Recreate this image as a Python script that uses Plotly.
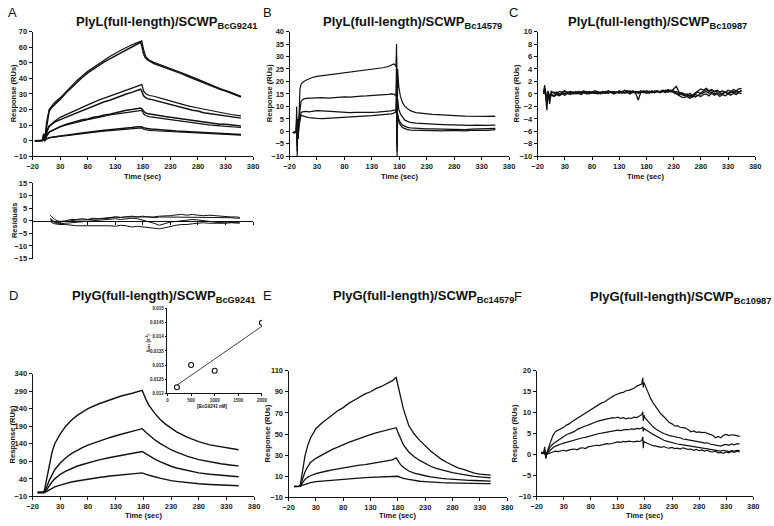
import numpy as np
import plotly.graph_objects as go

W, H = 774, 526
FONT = "Liberation Sans"
INK = "#111111"

X_TICKS = [-20, 30, 80, 130, 180, 230, 280, 330, 380]

# ---- panel A : PlyL / SCWP BcG9241 (data + fits) ----
TA = [-16, -10, -5, -2, 0, 2, 4, 6, 8, 10,
      15, 20, 30, 40, 50, 60, 70, 80, 90, 100,
      110, 120, 130, 140, 150, 160, 170, 176, 178, 181,
      184, 188, 195, 200, 210, 220, 230, 240, 250, 260,
      270, 280, 290, 300, 310, 320, 330, 340, 350, 358]
A1 = [0, 0, 0.2, 0.5, 4.5, 1, 6, 12, 16, 19,
      21.5, 23, 26.5, 30.5, 34, 37.5, 40.5, 43.5, 46, 48.5,
      50.5, 52.5, 54.5, 56.5, 58.5, 60, 62, 63, 61, 56,
      53.5, 52, 50.5, 49.5, 48.2, 47, 45.7, 44.5, 43, 41.5,
      40, 38.5, 37, 35.5, 34.3, 33, 31.8, 30.5, 29, 28]
A2 = [0, 0, 0, 0.3, 3, 0.5, 3, 6, 8, 9.5,
      11, 12, 13.5, 15, 16.5, 18, 19.5, 21, 22.5, 24,
      25, 26, 27.5, 28.5, 30, 31, 32.5, 33, 32, 29,
      28, 27, 26.5, 26, 25, 24, 23, 22, 21, 20.5,
      19.5, 19, 18, 17.5, 17, 16.5, 16, 15.5, 15, 14.5]
A3 = [0, 0, 0, 0.2, 2, 0.3, 2, 3.5, 4.5, 5.5,
      6.5, 7.5, 9, 10.5, 11.5, 12.5, 13.5, 14, 15, 15.5,
      16.5, 17, 18, 18.5, 19.5, 20, 20.5, 21, 20.5, 19,
      18, 17.5, 17, 16.5, 16, 15.5, 15, 14.5, 14, 13.5,
      13, 12.5, 12, 11.5, 11, 10.5, 10.5, 10, 9.5, 9.5]
A4 = [0, 0, 0, 0, 1, 0, 1, 1.5, 2, 2,
      2.3, 2.5, 3, 3.5, 4, 4.5, 5, 5.5, 6, 6.3,
      6.7, 7, 7.3, 7.6, 8, 8.5, 9, 9.3, 9, 8.3,
      8, 7.8, 7.5, 7.3, 7, 6.8, 6.5, 6.2, 6, 5.8,
      5.5, 5.3, 5.1, 5, 4.8, 4.6, 4.5, 4.3, 4.2, 4]

TAF = [2, 5, 10, 20, 30, 45, 60, 80, 100, 120,
       140, 160, 178, 182, 186, 192, 200, 220, 240, 260,
       280, 300, 320, 340, 358]
F_A1 = [0, 11, 20, 24.5, 27.5, 33, 38.5, 44.5, 49.5, 54,
        58, 61.5, 64, 57.5, 53.5, 51.5, 50.3, 47.8, 45.3, 42.3,
        39.3, 36.3, 33.5, 31, 28.5]
F_A2 = [0, 5, 9, 12.5, 15, 17.5, 20, 23, 26, 28.5,
        31, 33.5, 36, 31.5, 30, 29, 28.5, 26.5, 24.5, 22.5,
        21, 19.5, 18, 16.8, 16]
F_A3 = [0, 3.5, 5.5, 7.5, 9, 10.5, 12, 13.5, 15, 16.5,
        17.5, 18.5, 19.5, 17, 16, 15.5, 15, 14, 13, 12,
        11, 10.2, 9.5, 9, 8.5]
F_A4 = [0, 1, 1.8, 2.5, 3, 3.5, 4.2, 5, 5.8, 6.5,
        7.2, 7.8, 8.3, 7.2, 6.8, 6.6, 6.4, 6, 5.6, 5.2,
        4.8, 4.5, 4.2, 3.9, 3.6]

# residuals of the fit
TR = [12, 15, 20, 25, 30, 40, 50, 60, 70, 80,
      90, 100, 110, 120, 130, 140, 150, 160, 170, 180,
      190, 200, 210, 220, 230, 240, 250, 260, 270, 280,
      290, 300, 310, 320, 330, 340, 350, 356]
R1 = [2.2, 1.5, 0.5, 0, -0.3, 0, 0.5, 0.5, 0.8, 0.5,
      1, 0.8, 1, 1.2, 1.5, 1.3, 1.5, 1.8, 1.5, 1.5,
      1.6, 1.5, 1.8, 1.8, 2, 2.3, 2.5, 2.2, 2.5, 2.2,
      2, 2.2, 2, 1.8, 1.8, 1.5, 1.5, 1.3]
R2 = [1, 0.3, -0.5, -0.8, -0.5, -0.3, 0, 0.3, 0.3, 0.5,
      0.5, 0.8, 1, 1, 1.5, 1.3, 1.5, 1.5, 1.5, 1.8,
      1.5, 1.2, 1.5, 1.5, 1.2, 1.5, 1.5, 1.5, 1.2, 1.5,
      1.2, 1.5, 1.2, 1.5, 1.3, 1.2, 1, 1]
R3 = [0.5, 0, -0.8, -1, -1.2, -1, -0.8, -0.5, -0.3, 0,
      0, 0.3, 0.5, 0.5, 0.8, 0.5, 0.8, 1, 0.8, 0.3,
      -0.3, -1, -1.8, -1.2, -0.5, -0.3, 0, 0.3, 0.5, 0.3,
      0, -0.3, -0.5, -0.8, -0.5, -0.8, -1, -1]
R4 = [0, -0.8, -1.2, -1.5, -1.5, -1.5, -1.8, -2, -2, -2,
      -1.8, -1.8, -2, -2, -2.2, -1.8, -2, -2.5, -2.2, -2.5,
      -2.8, -3, -3.2, -2.8, -2.2, -1.8, -1.5, -1.5, -1.2, -1,
      -0.8, -1, -1, -1.2, -1, -0.8, -0.8, -0.5]

# ---- panel B : PlyL / SCWP Bc14579 ----
TB = [-14, -10, -8, -7, -6, -5, -4, -3, -1, 1,
      3, 6, 10, 15, 20, 30, 40, 50, 60, 70,
      80, 90, 100, 110, 120, 130, 140, 150, 160, 165,
      170, 173, 174, 175, 176, 177, 179, 182, 186, 190,
      195, 200, 210, 220, 230, 240, 250, 260, 270, 280,
      290, 300, 310, 320, 330, 340, 350, 355]
B1 = [-0.5, -0.6, -0.3, 10, -10, 5, -3, 8, 17, 19,
      19.5, 20, 20.5, 21, 21.5, 22, 22.3, 22.5, 22.8, 23,
      23.2, 23.5, 23.8, 24.3, 24.5, 25, 25.2, 25.5, 26, 26.5,
      27, 26.5, 26, 35, -10, 25, 18, 14, 11.5, 10,
      9, 8.3, 7.5, 7.2, 7, 6.8, 6.7, 6.5, 6.3, 6.2,
      6.2, 6.1, 6, 6, 5.9, 6, 6.1, 6]
B2 = [-0.5, -0.5, -0.2, 6, -8, 3, -1, 5, 10, 12,
      12.5, 13, 13.2, 13.3, 13.2, 13.4, 13.5, 13.3, 13.5, 13.6,
      13.8, 13.7, 14, 14.1, 14.2, 14.3, 14.5, 14.6, 14.8, 15,
      14.9, 14.5, 14, 30, -5, 13, 9, 7, 5.5, 4.5,
      4, 3.6, 3.3, 3.1, 3, 2.9, 2.8, 2.7, 2.6, 2.5,
      2.5, 2.4, 2.4, 2.5, 2.3, 2.4, 2.5, 2.5]
B3 = [-0.5, -0.4, -0.3, 4, -6, 2, -1, 3, 6, 7.5,
      7.8, 8, 8, 7.8, 8, 8.3, 8.2, 8, 7.8, 7.6,
      7.7, 7.5, 7.6, 7.5, 7.4, 7.6, 7.7, 7.8, 8, 8.2,
      8.5, 8.6, 8.3, 20, -8, 7, 5, 3.5, 2.5, 2,
      1.6, 1.4, 1.2, 1.1, 1, 1, 0.9, 0.8, 0.7, 0.9,
      0.8, 0.7, 0.9, 1, 0.8, 1, 1.1, 1.2]
B4 = [-0.4, -0.3, -0.2, 3, -5, 1, -1, 2, 5, 6.5,
      6.3, 6, 5.8, 5.5, 5.3, 5.2, 5.1, 5.2, 5.3, 5.5,
      5.6, 5.8, 6, 6, 6.2, 6.3, 6.5, 6.6, 6.8, 7,
      7.3, 7.8, 7.5, 15, -6, 6, 4, 2.5, 1.5, 1,
      0.7, 0.5, 0.4, 0.3, 0.3, 0.2, 0.3, 0.2, 0.4, 0.3,
      0.1, 0.2, 0.4, 0.3, 0.5, 0.4, 0.6, 0.7]

# ---- panel C : PlyL / SCWP Bc10987 (no binding) ----
TC = [-9, -7, -5, -3, -1, 2, 5, 10, 15, 20,
      25, 30, 35, 40, 45, 50, 55, 60, 65, 70,
      75, 80, 85, 90, 95, 100, 105, 110, 115, 120,
      125, 130, 135, 140, 145, 150, 155, 160, 165, 170,
      175, 180, 185, 190, 195, 200, 205, 210, 215, 220,
      225, 230, 235, 240, 245, 250, 255, 260, 265, 270,
      275, 280, 285, 290, 295, 300, 305, 310, 315, 320,
      325, 330, 335, 340, 345, 350, 355]
C1 = [0.2, 1.4, -0.6, -2.6, 0.4, -1.6, 0.2, 0.3, 0.1, 0.4,
      0.3, 0.5, 0.2, 0.4, 0.3, 0.1, 0.4, 0.3, 0.5, 0.2,
      0.4, 0.3, 0.5, 0.3, 0.2, 0.4, 0.3, 0.5, 0.3, 0.4,
      0.2, 0.5, 0.3, 0.6, 0.4, 0.3, 0.5, 0.2, -1.0, 0.4,
      0.3, 0.5, 0.4, 0.2, 0.5, 0.3, 0.4, 0.6, 0.5, 0.7,
      0.4, 0.8, 1.2, 0.3, 0.1, -0.2, -0.4, -0.2, -0.5, -0.1,
      -0.3, 0.2, 0.5, 0.7, 0.4, 0.6, 0.3, 0.5, 0.2, 0.0,
      0.3, 0.1, 0.4, 0.2, 0.5, 0.3, 0.6]
C2 = [0.0, 0.8, 0.2, -1.2, 0.5, -0.4, 0.0, -0.3, 0.1, -0.2,
      0.2, 0.0, 0.3, 0.1, 0.2, 0.4, 0.1, 0.3, 0.2, 0.0,
      0.3, 0.1, 0.2, 0.4, 0.1, 0.3, 0.2, 0.1, 0.4, 0.2,
      0.3, 0.1, 0.4, 0.2, 0.5, 0.2, 0.3, 0.1, 0.4, 0.2,
      0.5, 0.3, 0.1, 0.4, 0.2, 0.5, 0.3, 0.4, 0.2, 0.6,
      0.3, 0.5, 0.1, -0.1, 0.2, 0.0, -0.2, 0.1, -0.3, 0.2,
      0.5, 0.8, 0.6, 0.9, 0.5, 0.7, 0.4, 0.6, 0.3, 0.5,
      0.2, 0.6, 0.4, 0.7, 0.5, 0.8, 0.9]
C3 = [0.1, 0.5, -0.3, -0.8, 0.2, -0.5, -0.2, -0.4, -0.1, -0.3,
      0.0, -0.2, 0.1, -0.1, 0.2, 0.0, 0.1, -0.1, 0.2, 0.1,
      0.0, 0.2, 0.1, 0.3, 0.0, 0.2, 0.1, 0.3, 0.2, 0.1,
      0.3, 0.2, 0.4, 0.1, 0.3, 0.5, 0.2, 0.4, 0.1, 0.3,
      0.2, 0.4, 0.3, 0.5, 0.2, 0.4, 0.3, 0.5, 0.4, 0.3,
      0.6, 0.2, 0.0, -0.3, -0.5, -0.6, -0.4, -0.7, -0.3, -0.5,
      -0.2, -0.4, -0.1, 0.0, -0.3, 0.1, -0.2, 0.0, -0.4, -0.1,
      -0.3, 0.0, -0.2, 0.1, -0.1, 0.2, 0.0]
C4 = [0.3, 1.0, 0.0, -1.5, 0.3, -0.8, 0.4, 0.1, 0.3, 0.0,
      0.2, 0.4, 0.1, 0.3, 0.0, 0.2, 0.3, 0.1, 0.2, 0.4,
      0.1, 0.3, 0.2, 0.0, 0.3, 0.1, 0.4, 0.2, 0.3, 0.0,
      0.2, 0.4, 0.1, 0.3, 0.2, 0.0, 0.3, 0.4, 0.2, 0.5,
      0.3, 0.1, 0.4, 0.2, 0.3, 0.5, 0.2, 0.4, 0.6, 0.3,
      0.5, 0.3, 0.4, 0.1, -0.1, -0.3, 0.0, -0.4, -0.2, 0.1,
      0.3, 0.0, 0.2, 0.4, 0.1, 0.3, 0.0, 0.2, -0.1, 0.1,
      0.3, 0.0, 0.2, 0.4, 0.1, 0.3, 0.5]

# ---- panel D : PlyG / SCWP BcG9241 ----
TD = [-11, -5, 0, 2, 5, 10, 15, 20, 30, 40,
      50, 60, 70, 80, 100, 120, 140, 160, 178, 185,
      190, 200, 210, 220, 230, 240, 260, 280, 300, 320,
      340, 352]
D1 = [1, 1, 1, 12, 35, 80, 115, 140, 168, 190,
      207, 220, 231, 240, 254, 266, 276, 284, 292, 265,
      250, 228, 210, 196, 184, 174, 158, 146, 137, 131,
      126, 123]
D2 = [1, 1, 1, 6, 15, 35, 52, 66, 85, 100,
      112, 121, 129, 136, 148, 158, 167, 175, 183, 172,
      165, 152, 141, 131, 123, 116, 104, 95, 88, 83,
      79, 77]
D3 = [1, 1, 1, 3, 8, 20, 31, 40, 53, 62,
      70, 76, 81, 86, 94, 101, 107, 113, 118, 111,
      106, 97, 89, 82, 76, 71, 63, 57, 53, 50,
      47, 46]
D4 = [1, 1, 1, 1, 4, 9, 13, 17, 22, 27,
      31, 34, 37, 39, 44, 48, 51, 54, 57, 53,
      50, 46, 42, 38, 35, 33, 29, 26, 24, 22.5,
      21, 20.5]

# inset: kobs versus concentration
CONC = [200, 500, 1000, 2000]
KOBS = [0.01221, 0.01300, 0.01280, 0.01450]
KOBS_TICKS = [0.012, 0.0125, 0.013, 0.0135, 0.014, 0.0145, 0.015]
KOBS_TEXT = ["0.012", "0.0125", "0.013", "0.0135", "0.014", "0.0145", "0.015"]

# ---- panel E : PlyG / SCWP Bc14579 ----
TE = [-10, -5, 0, 2, 5, 10, 15, 20, 30, 40,
      50, 60, 70, 80, 90, 100, 110, 120, 130, 140,
      150, 160, 170, 177, 180, 185, 190, 200, 210, 220,
      230, 240, 250, 260, 270, 280, 290, 300, 310, 320,
      330, 340, 350]
E1 = [0.5, 0.3, 0.5, 3, 12, 29, 39, 46, 55, 60,
      64, 68, 72, 75, 79, 82, 85, 88, 90, 93,
      95, 98, 100.5, 103.5, 97, 84, 74, 58, 50, 44,
      39, 34, 30, 26, 23, 20.5, 18, 16.5, 14.5, 13,
      12, 11.5, 11]
E2 = [0.5, 0.3, 0.5, 1.5, 6, 14, 19, 23, 27, 30,
      33, 35.5, 37.5, 40, 42, 44, 46, 47.5, 49.5, 51,
      52.5, 53.5, 55, 56, 52, 45, 40, 33, 28.5, 25,
      22, 19.5, 17.5, 16, 14.5, 13.5, 12.5, 11.5, 11, 10,
      9.5, 9, 8.5]
E3 = [0.3, 0.2, 0.4, 1, 3.5, 7, 9, 10.5, 12.5, 14,
      15, 16, 17, 18, 19, 19.5, 20.5, 21, 22, 23,
      23.5, 24.5, 25.5, 27.5, 25, 21, 18.5, 15, 13, 11.5,
      10.5, 9.5, 8.5, 8, 7.5, 7, 6.8, 6.5, 6.2, 6,
      5.8, 5.6, 5.5]
E4 = [0.2, 0.2, 0.3, 0.5, 1.5, 2.5, 3.3, 4, 5, 5.5,
      6, 6.5, 7, 7.3, 7.8, 8, 8.5, 8.8, 9, 9.3,
      9.5, 9.8, 10, 10.5, 10, 9, 8, 7, 6, 5.3,
      5, 4.5, 4.2, 4, 3.8, 3.6, 3.5, 3.3, 3.2, 3.1,
      3, 3, 3]

# ---- panel F : PlyG / SCWP Bc10987 ----
TF = [-12, -9, -7, -5, -3, -1, 2, 5, 10, 15,
      20, 25, 30, 35, 40, 45, 50, 55, 60, 65,
      70, 75, 80, 85, 90, 95, 100, 105, 110, 115,
      120, 125, 130, 135, 140, 145, 150, 155, 160, 165,
      170, 174, 176, 177, 178, 180, 185, 190, 195, 200,
      205, 210, 215, 220, 225, 230, 235, 240, 245, 250,
      255, 260, 265, 270, 275, 280, 285, 290, 295, 300,
      305, 310, 315, 320, 325, 330, 335, 340, 345, 350,
      355]
F1 = [0.5, 0.5, 0.6, 1.8, -1, 0.5, 1.5, 3, 4.5, 5.5,
      5.8, 6.2, 6.5, 7, 7.3, 7.8, 8.2, 8.8, 9.2, 9.6,
      10, 10.3, 10.8, 11, 11.5, 11.8, 12.3, 12.5, 13, 13.3,
      13.8, 14.2, 14.5, 14.7, 14.8, 15.2, 15.3, 15.6, 15.8, 16.3,
      16.5, 16.8, 18.3, 16, 17.2, 16.5, 15, 13.5, 12.3, 11.3,
      10.5, 9.6, 9, 8.2, 7.6, 7.3, 6.8, 6.9, 6.5, 6.4,
      6.3, 5.9, 5.4, 5.6, 5.3, 5.4, 5.2, 5.3, 5.0, 4.8,
      4.6, 4.0, 4.3, 4.0, 4.6, 4.8, 4.5, 4.7, 4.6, 4.4,
      4.3]
F2 = [0.3, 0.3, 0.4, 1, -0.8, 0.3, 1, 1.8, 2.5, 3,
      3.5, 4, 4.3, 4.7, 5, 5.3, 5.5, 6, 6.3, 6.5,
      6.8, 7, 7.3, 7.6, 7.8, 8, 8.2, 8.3, 8.5, 8.6,
      8.8, 8.7, 8.9, 8.6, 8.8, 8.5, 8.7, 8.6, 8.9, 8.8,
      9.2, 9.5, 10.2, 8, 9.4, 8.8, 8, 7.2, 6.6, 6.1,
      5.6, 5.3, 5, 4.7, 4.5, 4.4, 4.2, 4.1, 4, 3.7,
      3.6, 3.5, 3.3, 3.2, 3.1, 3, 2.9, 2.7, 2.8, 2.5,
      2.4, 2.3, 2.2, 2.0, 2.3, 2.4, 2.2, 2.5, 2.3, 2.6,
      2.5]
F3 = [0.2, 0.2, 0.3, 0.6, -0.5, 0.2, 0.6, 1.1, 1.6, 2,
      2.3, 2.5, 2.7, 2.9, 3.1, 3.2, 3.4, 3.6, 3.8, 4,
      4.1, 4.3, 4.5, 4.6, 4.8, 5, 5.1, 5.2, 5.4, 5.5,
      5.6, 5.7, 5.8, 5.7, 5.9, 6, 5.9, 6.1, 6, 6.2,
      6.1, 6.3, 6.6, 5.5, 6.2, 6.0, 5.6, 5.2, 4.8, 4.4,
      4.0, 3.7, 3.4, 3.2, 3.0, 2.8, 2.7, 2.5, 2.4, 2.3,
      2.2, 2.0, 1.9, 1.8, 1.7, 1.6, 1.5, 1.4, 1.3, 1.2,
      1.1, 1.0, 0.9, 0.8, 1.0, 0.9, 0.7, 0.9, 0.8, 1.0,
      0.9]
F4 = [0.3, 0.3, 0.3, 0.2, -0.3, 0.1, 0.2, 0.4, 0.6, 0.8,
      0.7, 0.9, 1.0, 0.8, 1.1, 1.2, 1.3, 1.1, 1.5, 1.6,
      1.4, 1.8, 1.9, 2.0, 2.2, 2.1, 2.3, 2.4, 2.6, 2.5,
      2.7, 2.8, 3.0, 2.9, 3.1, 3.0, 3.2, 3.1, 3.0, 3.2,
      3.1, 3.3, 4.2, 1.5, 3.2, 2.9, 2.6, 2.3, 2.1, 2.0,
      1.8, 1.7, 1.9, 1.6, 1.5, 1.7, 1.4, 1.5, 1.3, 1.6,
      1.4, 1.2, 1.3, 1.0, 1.2, 0.9, 1.1, 0.8, 1.0, 0.7,
      0.6, 0.8, 0.4, 0.5, 0.3, 0.6, 0.4, 0.7, 0.5, 0.8,
      0.6]


def xdom(left, right):
    return [left / W, right / W]


def ydom(top, bottom):
    return [1 - bottom / H, 1 - top / H]


def axis(size=7.5, **kw):
    d = dict(
        showline=True, linecolor=INK, linewidth=1,
        ticks="outside", ticklen=3, tickwidth=1, tickcolor=INK,
        showgrid=False, zeroline=False,
        tickfont=dict(family=FONT, size=size, color="#222222", weight="bold"),
    )
    d.update(kw)
    return d


fig = go.Figure()


def add_lines(xs, series, ax, width=1.2):
    for ys in series:
        fig.add_trace(go.Scatter(
            x=xs, y=ys, mode="lines", xaxis="x" + ax, yaxis="y" + ax,
            line=dict(color=INK, width=width), hoverinfo="skip",
        ))


# A: data plus fitted curves
add_lines(TA, [A1, A2, A3, A4], "", width=1.5)
add_lines(TAF, [F_A1, F_A2, F_A3, F_A4], "", width=1.2)
add_lines(TR, [R1, R2, R3, R4], "2", width=1.0)
add_lines(TB, [B1, B2, B3, B4], "3", width=1.2)
add_lines(TC, [C1, C2, C3, C4], "4", width=1.3)
add_lines(TD, [D1, D2, D3, D4], "5", width=1.4)
add_lines(TE, [E1, E2, E3, E4], "7", width=1.3)
add_lines(TF, [F1, F2, F3, F4], "8", width=1.2)

# inset: points and linear fit
slope, icpt = np.polyfit(CONC, KOBS, 1)
fit_x = [CONC[0], CONC[-1]]
fig.add_trace(go.Scatter(
    x=fit_x, y=[slope * v + icpt for v in fit_x], mode="lines",
    xaxis="x6", yaxis="y6", line=dict(color=INK, width=0.8), hoverinfo="skip",
))
fig.add_trace(go.Scatter(
    x=CONC, y=KOBS, mode="markers", xaxis="x6", yaxis="y6",
    marker=dict(symbol="circle-open", size=5, color=INK, line=dict(width=1.1)),
    hoverinfo="skip",
))

fig.update_layout(
    width=W, height=H, margin=dict(l=0, r=0, t=0, b=0),
    paper_bgcolor="white", plot_bgcolor="rgba(0,0,0,0)",
    showlegend=False,
    xaxis=axis(domain=xdom(27, 251), range=[-20, 380], tickvals=X_TICKS, anchor="y"),
    yaxis=axis(domain=ydom(28, 155), range=[-10, 70], dtick=10, anchor="x"),
    xaxis2=axis(domain=xdom(27, 251), range=[-20, 380], tickvals=X_TICKS,
                anchor="free", position=1 - 220.5 / H, showticklabels=False),
    yaxis2=axis(domain=ydom(182, 259), range=[-15, 15], dtick=5, anchor="x2"),
    xaxis3=axis(domain=xdom(288, 511), range=[-20, 380], tickvals=X_TICKS, anchor="y3"),
    yaxis3=axis(domain=ydom(28, 155), range=[-10, 40], dtick=5, anchor="x3"),
    xaxis4=axis(domain=xdom(540, 761), range=[-20, 380], tickvals=X_TICKS, anchor="y4"),
    yaxis4=axis(domain=ydom(28, 155), range=[-10, 10], dtick=2, anchor="x4"),
    xaxis5=axis(domain=xdom(27, 252), range=[-20, 380], tickvals=X_TICKS, anchor="y5"),
    yaxis5=axis(domain=ydom(376, 501), range=[-10, 340], tick0=-10, dtick=50, anchor="x5"),
    xaxis6=axis(size=4.5, domain=xdom(164, 260), range=[0, 2000],
                tickvals=[0, 500, 1000, 1500, 2000], ticklen=2, linewidth=0.8, anchor="y6"),
    yaxis6=axis(size=4.5, domain=ydom(310, 396), range=[0.012, 0.015],
                tickvals=KOBS_TICKS, ticktext=KOBS_TEXT, ticklen=2, linewidth=0.8, anchor="x6"),
    xaxis7=axis(domain=xdom(287, 509), range=[-20, 380], tickvals=X_TICKS, anchor="y7"),
    yaxis7=axis(domain=ydom(373, 502), range=[-10, 110], tick0=-10, dtick=20, anchor="x7"),
    xaxis8=axis(domain=xdom(539, 759), range=[-20, 380], tickvals=X_TICKS, anchor="y8"),
    yaxis8=axis(domain=ydom(373, 501), range=[-10, 20], dtick=5, anchor="x8"),
)


def label(text, x, y, size=7.5, bold=True, angle=0, **kw):
    fig.add_annotation(
        text=text, x=x / W, y=1 - y / H, xref="paper", yref="paper",
        showarrow=False, textangle=angle, xanchor="center", yanchor="middle",
        font=dict(family=FONT, size=size, color=INK, weight="bold" if bold else "normal"),
        **kw,
    )


# panel letters
for txt, x, y in [("A", 7, 9), ("B", 266, 9), ("C", 515, 9),
                  ("D", 8, 297), ("E", 266, 297), ("F", 520, 298)]:
    label(txt, x, y, size=13, bold=False)

# panel titles
SUB = "<sub><span style='font-size:9.3px'>{}</span></sub>"
for main, sub, x, y in [
    ("PlyL(full-length)/SCWP", "BcG9241", 163, 19),
    ("PlyL(full-length)/SCWP", "Bc14579", 413, 19),
    ("PlyL(full-length)/SCWP", "Bc10987", 662, 19),
    ("PlyG(full-length)/SCWP", "BcG9241", 160, 298),
    ("PlyG(full-length)/SCWP", "Bc14579", 424, 298),
    ("PlyG(full-length)/SCWP", "Bc10987", 685, 299),
]:
    label(main + SUB.format(sub), x, y, size=13)

# axis titles
for x, y in [(8, 91), (268, 91), (518, 91), (7, 438), (266, 437), (517, 437)]:
    label("Response (RUs)", x, y, angle=-90)
label("Residuals", 8, 220, angle=-90)
for x, y in [(139, 175), (400, 175), (650, 175), (140, 520), (398, 520), (649, 520)]:
    label("Time (sec)", x, y)

# inset titles
label("k<sub>obs</sub> (s<sup>-1</sup>)", 144, 345, size=4.5, angle=-90)
label("[BcG9241 nM]", 210, 410, size=4.5)

fig.write_html(
    "out.html",
    config={"displayModeBar": False},
    post_script="document.body.style.margin='0';document.body.style.overflow='hidden';",
)
